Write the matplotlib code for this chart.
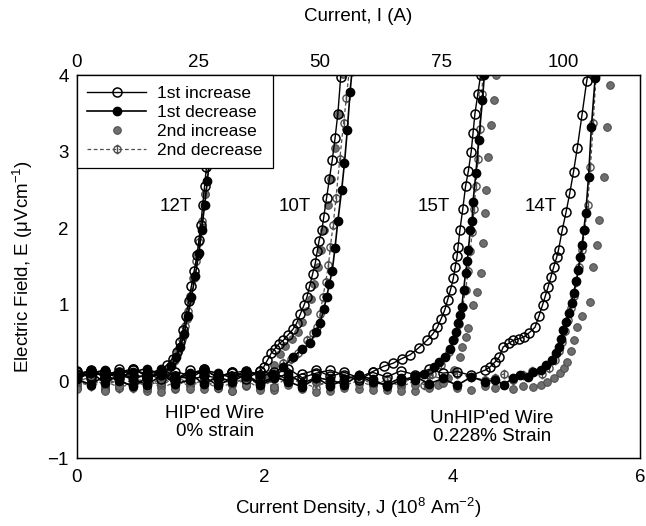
# E-J curves of HIP'ed / UnHIP'ed wire (scanned figure recreated)
import numpy as np
import matplotlib
matplotlib.use("Agg")
import matplotlib.pyplot as plt
from matplotlib.path import Path

plt.rcParams['font.family'] = ['Liberation Sans', 'DejaVu Sans']
plt.rcParams['mathtext.default'] = 'regular'

# --- data (J in 1e8 A/m2, E in uV/cm) ---
I_PER_J = 19.3
top_ticks = [0, 25, 50, 75, 100]

# 12T, HIP'ed
j_base_12 = [0.0, 0.15, 0.30, 0.45, 0.60, 0.75, 0.90]
e12_inc1_base = [0.10, 0.14, 0.06, 0.16, 0.09, 0.05, 0.13]
e12_dec1_base = [0.04, 0.11, 0.15, 0.05, 0.13, 0.17, 0.08]
e12_inc2_base = [-0.05, 0.01, -0.09, 0.03, -0.06, 0.02, -0.03]
e12_dec2_base = [0.00, -0.06, 0.05, -0.04, 0.02, -0.07, 0.04]
j12_inc1 = [0.96, 1.02, 1.07, 1.10, 1.13, 1.16, 1.19, 1.22, 1.25, 1.28, 1.30, 1.32, 1.34, 1.36, 1.38, 1.40, 1.43, 1.46]
e12_inc1 = [0.22, 0.30, 0.38, 0.52, 0.67, 0.85, 1.05, 1.25, 1.45, 1.65, 1.85, 2.05, 2.30, 2.55, 2.80, 3.10, 3.50, 4.00]
j12_dec1 = [1.00, 1.06, 1.10, 1.14, 1.18, 1.22, 1.26, 1.30, 1.33, 1.36, 1.39, 1.42, 1.45, 1.48]
e12_dec1 = [0.20, 0.32, 0.45, 0.62, 0.85, 1.10, 1.38, 1.68, 1.98, 2.30, 2.62, 3.00, 3.45, 4.00]
j12_inc2 = [0.98, 1.04, 1.09, 1.13, 1.17, 1.21, 1.25, 1.29, 1.33, 1.37, 1.41, 1.45]
e12_inc2 = [0.15, 0.28, 0.42, 0.60, 0.82, 1.06, 1.35, 1.65, 2.00, 2.45, 2.95, 3.50]
j12_dec2 = [0.97, 1.03, 1.08, 1.12, 1.15, 1.18, 1.21, 1.24, 1.27, 1.30, 1.33, 1.36, 1.40, 1.44]
e12_dec2 = [0.18, 0.27, 0.40, 0.55, 0.72, 0.92, 1.12, 1.35, 1.58, 1.82, 2.10, 2.45, 2.90, 3.45]

# 10T, HIP'ed
j_base_10 = [0.0, 0.15, 0.30, 0.45, 0.60, 0.75, 0.90, 1.05, 1.20, 1.35, 1.50, 1.65, 1.80, 1.95]
e10_inc1_base = [0.12, 0.05, 0.14, 0.08, 0.17, 0.06, 0.11, 0.02, 0.15, 0.09, 0.04, 0.13, 0.07, 0.14]
e10_dec1_base = [0.06, 0.15, 0.08, 0.13, 0.03, 0.10, 0.16, 0.07, 0.04, 0.15, 0.11, 0.05, 0.14, 0.09]
e10_inc2_base = [-0.04, 0.02, -0.09, -0.02, 0.05, -0.08, -0.01, -0.10, 0.03, -0.05, -0.09, 0.01, -0.06, -0.03]
e10_dec2_base = [0.03, -0.06, 0.01, -0.08, -0.02, 0.04, -0.09, 0.00, -0.05, 0.02, -0.07, -0.03, 0.05, -0.04]
j10_inc1 = [1.99, 2.03, 2.07, 2.11, 2.15, 2.20, 2.25, 2.30, 2.34, 2.38, 2.42, 2.45, 2.48, 2.51, 2.54, 2.56, 2.58, 2.61, 2.63, 2.66, 2.69, 2.72, 2.75, 2.78, 2.81]
e10_inc1 = [0.19, 0.28, 0.37, 0.43, 0.49, 0.54, 0.61, 0.68, 0.76, 0.88, 1.00, 1.10, 1.25, 1.40, 1.55, 1.70, 1.84, 1.98, 2.15, 2.40, 2.65, 2.89, 3.18, 3.50, 3.98]
j10_dec1 = [2.08, 2.20, 2.30, 2.40, 2.48, 2.55, 2.59, 2.63, 2.66, 2.69, 2.72, 2.75, 2.78, 2.82, 2.85, 2.88, 2.91, 2.93]
e10_dec1 = [0.10, 0.19, 0.32, 0.42, 0.50, 0.65, 0.76, 0.95, 1.10, 1.28, 1.45, 1.75, 2.10, 2.50, 2.85, 3.28, 3.78, 4.05]
j10_inc2 = [2.05, 2.10, 2.16, 2.22, 2.29, 2.35, 2.40, 2.45, 2.49, 2.53, 2.57, 2.60, 2.63, 2.67, 2.71, 2.75, 2.79, 2.83]
e10_inc2 = [0.05, 0.22, 0.36, 0.46, 0.55, 0.65, 0.78, 0.92, 1.08, 1.28, 1.50, 1.72, 1.98, 2.30, 2.65, 3.05, 3.50, 4.02]
j10_dec2 = [2.10, 2.20, 2.28, 2.35, 2.45, 2.52, 2.56, 2.59, 2.62, 2.65, 2.68, 2.70, 2.73, 2.76, 2.80, 2.84, 2.87, 2.90]
e10_dec2 = [0.05, 0.24, 0.30, 0.37, 0.54, 0.63, 0.71, 0.88, 1.10, 1.30, 1.52, 1.76, 2.05, 2.40, 2.90, 3.37, 3.70, 4.05]

# 15T, UnHIP'ed
j_base_15 = [0.0, 0.15, 0.30, 0.45, 0.60, 0.75, 0.90, 1.05, 1.20, 1.35, 1.50, 1.65, 1.80, 1.95, 2.10, 2.25, 2.40, 2.55, 2.70, 2.85, 3.00, 3.15]
e15_inc1_base = [0.14, 0.07, 0.12, 0.04, 0.15, 0.10, 0.03, 0.13, 0.08, 0.16, 0.05, 0.11, 0.14, 0.06, 0.12, 0.02, 0.10, 0.15, 0.07, 0.12, 0.05, 0.13]
e15_dec1_base = [0.05, 0.12, -0.02, 0.09, 0.03, -0.04, 0.08, 0.01, 0.11, -0.03, 0.06, 0.00, 0.09, -0.05, 0.04, 0.10, -0.02, 0.05, -0.06, 0.03, 0.08, -0.01]
e15_inc2_base = [-0.08, -0.02, -0.11, 0.01, -0.07, -0.12, -0.03, -0.09, 0.00, -0.10, -0.05, -0.12, -0.02, -0.08, -0.11, -0.04, -0.09, -0.01, -0.12, -0.06, -0.10, -0.03]
e15_dec2_base = [0.02, -0.05, 0.06, -0.08, 0.00, 0.04, -0.06, 0.07, -0.03, 0.01, -0.09, 0.05, -0.04, 0.03, -0.07, 0.06, -0.02, -0.08, 0.04, -0.05, 0.01, -0.06]
j15_inc1 = [3.27, 3.37, 3.46, 3.55, 3.64, 3.73, 3.79, 3.84, 3.88, 3.92, 3.95, 3.98, 4.01, 4.03, 4.05, 4.06, 4.08, 4.11, 4.14, 4.17, 4.20, 4.22, 4.24, 4.27, 4.30]
e15_inc1 = [0.20, 0.24, 0.30, 0.35, 0.44, 0.54, 0.62, 0.71, 0.82, 0.94, 1.07, 1.20, 1.35, 1.50, 1.64, 1.76, 1.98, 2.25, 2.55, 2.75, 3.00, 3.25, 3.50, 3.75, 4.00]
j15_dec1 = [3.30, 3.45, 3.60, 3.70, 3.80, 3.86, 3.92, 3.97, 4.01, 4.04, 4.06, 4.08, 4.10, 4.12, 4.14, 4.16, 4.17, 4.19, 4.21, 4.22, 4.25, 4.28, 4.32, 4.34]
e15_dec1 = [-0.04, 0.05, 0.02, 0.10, 0.19, 0.25, 0.32, 0.42, 0.54, 0.65, 0.76, 0.87, 0.98, 1.20, 1.42, 1.58, 1.72, 1.98, 2.10, 2.35, 2.72, 3.15, 3.68, 4.00]
j15_inc2 = [3.30, 3.45, 3.60, 3.75, 3.85, 3.95, 4.02, 4.08, 4.10, 4.14, 4.17, 4.22, 4.26, 4.30, 4.33, 4.35, 4.36, 4.38, 4.41, 4.44, 4.46]
e15_inc2 = [-0.11, -0.04, -0.12, -0.07, -0.05, 0.05, 0.15, 0.32, 0.45, 0.58, 0.70, 1.00, 1.17, 1.42, 1.81, 2.20, 2.50, 2.93, 3.35, 3.68, 4.00]
j15_dec2 = [3.30, 3.45, 3.60, 3.70, 3.78, 3.88, 3.96, 4.02, 4.07, 4.11, 4.14, 4.17, 4.19, 4.21, 4.23, 4.25, 4.27, 4.29, 4.31, 4.33]
e15_dec2 = [0.03, -0.07, 0.01, -0.04, 0.10, 0.22, 0.38, 0.55, 0.75, 0.98, 1.20, 1.45, 1.70, 1.95, 2.25, 2.55, 2.90, 3.30, 3.75, 4.05]

# 14T, UnHIP'ed
j_base_14 = [0.0, 0.15, 0.30, 0.45, 0.60, 0.75, 0.90, 1.05, 1.20, 1.35, 1.50, 1.65, 1.80, 1.95, 2.10,
             2.25, 2.40, 2.55, 2.70, 2.85, 3.00, 3.15, 3.30, 3.45, 3.60, 3.75, 3.90, 4.05, 4.20, 4.35]
e14_inc1_base = [0.09, 0.15, 0.05, 0.12, 0.17, 0.07, 0.13, 0.04, 0.10, 0.16, 0.06, 0.12, 0.03, 0.14, 0.09,
                 0.17, 0.05, 0.11, 0.15, 0.08, 0.02, 0.12, 0.06, 0.14, 0.09, 0.16, 0.11, 0.13, 0.08, 0.15]
e14_dec1_base = [0.03, -0.04, 0.08, 0.01, -0.06, 0.05, 0.10, -0.03, 0.02, 0.07, -0.05, 0.04, 0.09, -0.02, 0.06,
                 0.00, -0.07, 0.05, 0.02, -0.04, 0.08, 0.03, -0.06, 0.01, 0.07, -0.03, 0.04, -0.05, 0.06, 0.00]
e14_inc2_base = [-0.10, -0.04, -0.12, -0.06, 0.00, -0.09, -0.13, -0.05, -0.10, -0.02, -0.08, -0.12, -0.04, -0.11, -0.07,
                 -0.01, -0.10, -0.13, -0.06, -0.09, -0.03, -0.11, -0.07, -0.12, -0.05, -0.09, -0.02, -0.08, -0.11, -0.06]
e14_dec2_base = [0.00, 0.06, -0.05, 0.03, -0.08, 0.04, -0.02, 0.07, -0.06, 0.01, 0.05, -0.04, 0.02, -0.09, 0.03,
                 0.06, -0.03, 0.00, -0.07, 0.04, 0.08, -0.05, 0.02, -0.02, 0.05, 0.09, 0.03, 0.10, 0.06, 0.02]
j14_inc1 = [4.40, 4.45, 4.50, 4.54, 4.60, 4.65, 4.71, 4.76, 4.82, 4.88, 4.92, 4.96, 4.99, 5.02, 5.05, 5.08, 5.11, 5.13, 5.17, 5.21, 5.25, 5.29, 5.33, 5.38, 5.43, 5.45]
e14_inc1 = [0.19, 0.25, 0.32, 0.45, 0.50, 0.54, 0.56, 0.58, 0.64, 0.71, 0.85, 1.00, 1.12, 1.24, 1.37, 1.50, 1.62, 1.72, 1.98, 2.21, 2.46, 2.74, 3.05, 3.48, 3.92, 4.05]
j14_dec1 = [4.45, 4.55, 4.65, 4.72, 4.80, 4.86, 4.94, 5.00, 5.06, 5.10, 5.13, 5.16, 5.18, 5.21, 5.24, 5.27, 5.29, 5.32, 5.34, 5.36, 5.38, 5.40, 5.42, 5.45, 5.48, 5.52]
e14_dec1 = [0.02, -0.04, 0.05, 0.09, 0.06, 0.12, 0.15, 0.22, 0.28, 0.37, 0.45, 0.56, 0.67, 0.78, 0.90, 1.03, 1.16, 1.31, 1.46, 1.62, 1.78, 1.98, 2.20, 2.67, 3.32, 3.96]
j14_inc2 = [4.45, 4.55, 4.65, 4.75, 4.86, 4.94, 5.01, 5.08, 5.15, 5.19, 5.22, 5.26, 5.29, 5.33, 5.38, 5.47, 5.50, 5.54, 5.56, 5.61, 5.65, 5.68]
e14_inc2 = [-0.08, -0.05, -0.10, -0.06, -0.07, -0.04, -0.01, 0.05, 0.11, 0.18, 0.25, 0.40, 0.54, 0.71, 0.85, 1.04, 1.50, 1.78, 2.11, 2.67, 3.32, 3.87]
j14_dec2 = [4.45, 4.55, 4.65, 4.75, 4.85, 4.95, 5.03, 5.09, 5.14, 5.17, 5.20, 5.23, 5.26, 5.29, 5.32, 5.35, 5.38, 5.41, 5.44, 5.47, 5.50, 5.53]
e14_dec2 = [0.05, 0.10, 0.02, 0.08, 0.14, 0.10, 0.18, 0.28, 0.40, 0.52, 0.66, 0.80, 0.96, 1.12, 1.30, 1.50, 1.72, 1.98, 2.30, 2.80, 3.37, 4.00]

# field labels (J, E)
field_names = ['12T', '10T', '15T', '14T']
field_j = [1.05, 2.32, 3.80, 4.94]
field_e = [2.28, 2.28, 2.28, 2.28]


# circle with a vertical bar through it (2nd decrease marker)
def phi_marker():
    circ = Path.unit_circle()
    verts = np.concatenate([circ.vertices, [[0, -1.35], [0, 1.35]]])
    codes = np.concatenate([circ.codes, [Path.MOVETO, Path.LINETO]])
    return Path(verts, codes)


style_inc1 = dict(color='k', lw=1.0, marker='o', ms=6.5, mfc='none', mec='k', mew=1.1, zorder=4)
style_dec1 = dict(color='k', lw=1.2, marker='o', ms=6, mfc='k', mec='k', zorder=5)
style_inc2 = dict(ls='none', marker='o', ms=5.5, mfc='#6e6e6e', mec='#4a4a4a', mew=0.7, zorder=3)
style_dec2 = dict(color='#505050', lw=0.9, ls=(0, (3, 2)), marker=phi_marker(), ms=7,
                  mfc='none', mec='#505050', mew=1.0, zorder=3)


def draw(ax, jb, eb, jr, er, style, label=None):
    j = list(jb[:len(eb)]) + list(jr)
    e = list(eb) + list(er)
    ax.plot(j, e, label=label, **style)


fig = plt.figure(figsize=(6.46, 5.26), dpi=100)
ax = fig.add_axes([0.119, 0.129, 0.872, 0.728])

draw(ax, j_base_12, e12_dec2_base, j12_dec2, e12_dec2, style_dec2, '2nd decrease')
draw(ax, j_base_12, e12_inc2_base, j12_inc2, e12_inc2, style_inc2, '2nd increase')
draw(ax, j_base_12, e12_inc1_base, j12_inc1, e12_inc1, style_inc1, '1st increase')
draw(ax, j_base_12, e12_dec1_base, j12_dec1, e12_dec1, style_dec1, '1st decrease')

draw(ax, j_base_10, e10_dec2_base, j10_dec2, e10_dec2, style_dec2)
draw(ax, j_base_10, e10_inc2_base, j10_inc2, e10_inc2, style_inc2)
draw(ax, j_base_10, e10_inc1_base, j10_inc1, e10_inc1, style_inc1)
draw(ax, j_base_10, e10_dec1_base, j10_dec1, e10_dec1, style_dec1)

draw(ax, j_base_15, e15_dec2_base, j15_dec2, e15_dec2, style_dec2)
draw(ax, j_base_15, e15_inc2_base, j15_inc2, e15_inc2, style_inc2)
draw(ax, j_base_15, e15_inc1_base, j15_inc1, e15_inc1, style_inc1)
draw(ax, j_base_15, e15_dec1_base, j15_dec1, e15_dec1, style_dec1)

draw(ax, j_base_14, e14_dec2_base, j14_dec2, e14_dec2, style_dec2)
draw(ax, j_base_14, e14_inc2_base, j14_inc2, e14_inc2, style_inc2)
draw(ax, j_base_14, e14_inc1_base, j14_inc1, e14_inc1, style_inc1)
draw(ax, j_base_14, e14_dec1_base, j14_dec1, e14_dec1, style_dec1)

for name, x, y in zip(field_names, field_j, field_e):
    ax.text(x, y, name, fontsize=13.5, ha='center', va='center')

ax.text(1.47, -0.53, "HIP'ed Wire\n0% strain", fontsize=13.5, ha='center', va='center', linespacing=1.1)
ax.text(4.42, -0.60, "UnHIP'ed Wire\n0.228% Strain", fontsize=13.5, ha='center', va='center', linespacing=1.1)

ax.set_xlim(0, 6)
ax.set_ylim(-1, 4)
ax.set_xticks([0, 2, 4, 6])
ax.set_yticks([-1, 0, 1, 2, 3, 4])
ax.tick_params(length=0, labelsize=13.5)
ax.tick_params(axis='x', pad=8)
ax.tick_params(axis='y', pad=6)
for s in ax.spines.values():
    s.set_linewidth(1.0)
ax.set_xlabel('Current Density, J (10$^{8}$ Am$^{-2}$)', fontsize=13.5, labelpad=7)
ax.set_ylabel('Electric Field, E (μVcm$^{-1}$)', fontsize=13.5, labelpad=9)

# top axis: current
ax2 = ax.twiny()
ax2.set_xlim(0, 6 * I_PER_J)
ax2.set_xticks(top_ticks)
ax2.tick_params(length=0, labelsize=13.5, pad=3)
ax2.set_xlabel('Current, I (A)', fontsize=13.5, labelpad=24)

# legend order as in the picture
h, l = ax.get_legend_handles_labels()
order = ['1st increase', '1st decrease', '2nd increase', '2nd decrease']
hh = [h[l.index(o)] for o in order]
leg = ax.legend(hh, order, loc='upper left', fontsize=12.5, handlelength=3.4, handletextpad=0.6,
                labelspacing=0.22, borderpad=0.6, borderaxespad=0, fancybox=False,
                framealpha=1, edgecolor='k')
leg.get_frame().set_linewidth(0.9)
leg.set_zorder(10)

fig.savefig('out.png', dpi=100)
